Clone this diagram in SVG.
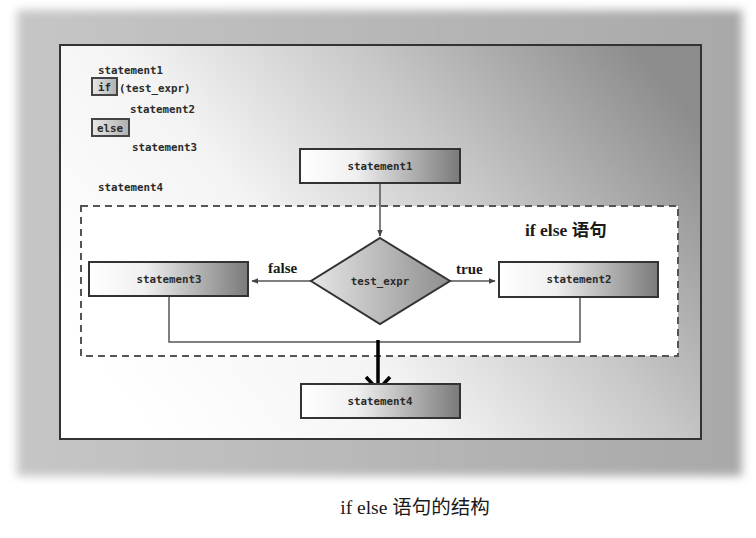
<svg xmlns="http://www.w3.org/2000/svg" width="756" height="538" viewBox="0 0 756 538">
  <defs>
    <style>
      .code { font-family: "DejaVu Sans Mono", "Liberation Mono", monospace; font-size: 10.8px; font-weight: bold; fill: #2a2a2a; }
      .box { stroke: #333; stroke-width: 2; fill: url(#boxGrad); }
      .lbl { font-family: "Liberation Serif", "Noto Sans CJK SC", serif; font-weight: bold; fill: #1a1a1a; }
      .cap { font-family: "Liberation Serif", "Noto Sans CJK SC", serif; font-weight: normal; fill: #1a1a1a; }
      .wire { stroke: #555; stroke-width: 1.5; fill: none; }
    </style>
    <filter id="soft" x="-5%" y="-5%" width="110%" height="110%">
      <feGaussianBlur stdDeviation="5"/>
    </filter>
    <linearGradient id="frameGrad" x1="0" y1="0" x2="1" y2="0">
      <stop offset="0" stop-color="#c6c6c6"/>
      <stop offset="1" stop-color="#a8a8a8"/>
    </linearGradient>
    <linearGradient id="panelGrad" x1="0" y1="0.7" x2="1" y2="0.2">
      <stop offset="0" stop-color="#ffffff"/>
      <stop offset="0.35" stop-color="#f4f4f4"/>
      <stop offset="0.65" stop-color="#c8c8c8"/>
      <stop offset="1" stop-color="#8c8c8c"/>
    </linearGradient>
    <linearGradient id="boxGrad" x1="0" y1="0" x2="1" y2="0">
      <stop offset="0" stop-color="#ffffff"/>
      <stop offset="0.35" stop-color="#f0f0f0"/>
      <stop offset="1" stop-color="#7a7a7a"/>
    </linearGradient>
    <linearGradient id="diaGrad" x1="0" y1="0" x2="1" y2="0">
      <stop offset="0" stop-color="#e6e6e6"/>
      <stop offset="1" stop-color="#8e8e8e"/>
    </linearGradient>
    <linearGradient id="kwGrad" x1="0" y1="0" x2="1" y2="0">
      <stop offset="0" stop-color="#e8e8e8"/>
      <stop offset="1" stop-color="#b0b0b0"/>
    </linearGradient>
    <marker id="tri" viewBox="0 0 10 10" refX="9" refY="5" markerWidth="7" markerHeight="7" orient="auto" markerUnits="userSpaceOnUse">
      <path d="M0,1 L10,5 L0,9 Z" fill="#444"/>
    </marker>
  </defs>

  <rect width="756" height="538" fill="#ffffff"/>

  <!-- backdrop and panel -->
  <rect x="17" y="10" width="725" height="466" fill="url(#frameGrad)" filter="url(#soft)"/>
  <rect x="60" y="45" width="641" height="394" fill="url(#panelGrad)" stroke="#333" stroke-width="2"/>

  <!-- if/else region -->
  <rect x="81" y="206" width="597" height="150" fill="#ffffff" stroke="#555" stroke-width="2" stroke-dasharray="7,5"/>
  <text class="lbl" x="525" y="236" font-size="17.5">if else 语句</text>

  <!-- source listing -->
  <g id="listing">
    <text class="code" x="98" y="74">statement1</text>
    <rect x="92" y="78" width="25" height="17" fill="url(#kwGrad)" stroke="#444" stroke-width="2"/>
    <text class="code" x="98" y="91">if</text>
    <text class="code" x="119" y="92">(test_expr)</text>
    <text class="code" x="130" y="113">statement2</text>
    <rect x="92" y="119" width="37" height="17" fill="url(#kwGrad)" stroke="#444" stroke-width="2"/>
    <text class="code" x="97" y="132">else</text>
    <text class="code" x="132" y="151">statement3</text>
    <text class="code" x="98" y="191">statement4</text>
  </g>

  <!-- connectors -->
  <g id="connectors">
    <line class="wire" x1="380" y1="184" x2="380" y2="236" marker-end="url(#tri)"/>
    <line class="wire" x1="311" y1="281" x2="252" y2="281" marker-end="url(#tri)"/>
    <line class="wire" x1="450" y1="281" x2="495" y2="281" marker-end="url(#tri)"/>
    <polyline class="wire" points="169,297 169,342 580,342 580,298"/>
    <path d="M378,340 L378,390 M366,377 L378,390 L390,377" stroke="#000" stroke-width="3.5" fill="none"/>
    <text class="lbl" x="268" y="273" font-size="15">false</text>
    <text class="lbl" x="456" y="274" font-size="15">true</text>
  </g>

  <!-- nodes -->
  <g id="statement1">
    <rect class="box" x="300" y="149" width="160" height="34"/>
    <text class="code" x="380" y="170" text-anchor="middle">statement1</text>
  </g>
  <g id="test_expr">
    <polygon points="380,238 450,281 380,324 311,281" fill="url(#diaGrad)" stroke="#333" stroke-width="2"/>
    <text class="code" x="380" y="285" text-anchor="middle">test_expr</text>
  </g>
  <g id="statement3">
    <rect class="box" x="89" y="262" width="159" height="34"/>
    <text class="code" x="169" y="283" text-anchor="middle">statement3</text>
  </g>
  <g id="statement2">
    <rect class="box" x="499" y="262" width="159" height="35"/>
    <text class="code" x="579" y="283" text-anchor="middle">statement2</text>
  </g>
  <g id="statement4">
    <rect class="box" x="301" y="384" width="159" height="34"/>
    <text class="code" x="380" y="405" text-anchor="middle">statement4</text>
  </g>

  <!-- caption -->
  <text class="cap" x="415" y="514" font-size="19.5" text-anchor="middle">if else 语句的结构</text>
</svg>
